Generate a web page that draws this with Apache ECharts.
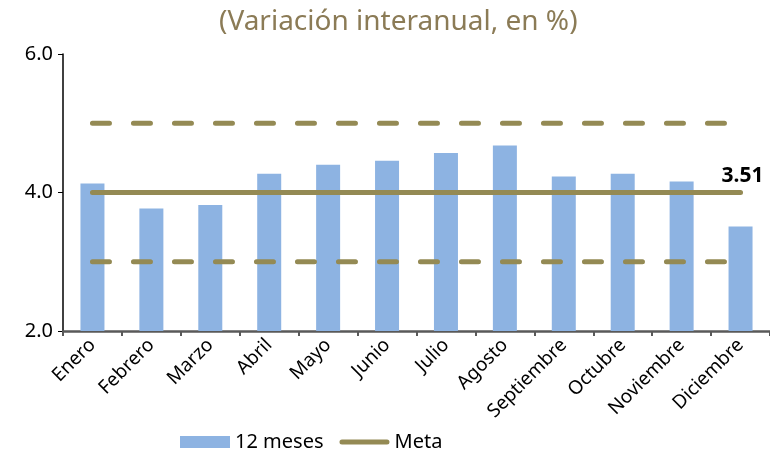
<!DOCTYPE html>
<html>
<head>
<meta charset="utf-8">
<script src="https://cdn.jsdelivr.net/npm/echarts@6/dist/echarts.min.js"></script>
<style>
  html, body { margin: 0; padding: 0; background: #fff; }
  #chart { width: 770px; height: 453px; }
</style>
</head>
<body>
<div id="chart"></div>
<script>
var meses = ['Enero', 'Febrero', 'Marzo', 'Abril', 'Mayo', 'Junio', 'Julio', 'Agosto', 'Septiembre', 'Octubre', 'Noviembre', 'Diciembre'];
var inflacion = [4.13, 3.77, 3.82, 4.27, 4.40, 4.46, 4.57, 4.68, 4.23, 4.27, 4.16, 3.51];
var meta = [4, 4, 4, 4, 4, 4, 4, 4, 4, 4, 4, 4];
var limiteSup = [5, 5, 5, 5, 5, 5, 5, 5, 5, 5, 5, 5];
var limiteInf = [3, 3, 3, 3, 3, 3, 3, 3, 3, 3, 3, 3];

var fuente = 'Noto Sans';
var oliva = '#948A54';

var barras = inflacion.map(function (v, i) {
    if (i === inflacion.length - 1) {
        return {
            value: v,
            label: {
                show: true, position: 'top', offset: [2, -35],
                fontSize: 21, fontWeight: 'bold', color: '#000', fontFamily: fuente,
                formatter: function (p) { return p.value.toFixed(2); }
            }
        };
    }
    return v;
});

var chart = echarts.init(document.getElementById('chart'));
chart.setOption({
    animation: false,
    textStyle: { fontFamily: fuente },
    title: {
        text: '(Variación interanual, en %)',
        left: 214, top: 3,
        textStyle: { color: '#8B7B56', fontSize: 28, fontWeight: 'normal', fontFamily: fuente }
    },
    legend: {
        data: [
            { name: '12 meses', icon: 'rect' },
            { name: 'Meta', icon: 'path://M2.5,0 L47.5,0 A2.5,2.5 0 0 1 47.5,5 L2.5,5 A2.5,2.5 0 0 1 2.5,0 Z' }
        ],
        bottom: -4, left: 175,
        itemWidth: 50, itemHeight: 12, itemGap: 16,
        textStyle: { fontSize: 20, color: '#000', fontFamily: fuente }
    },
    grid: { left: 63, right: 0, top: 54, bottom: 122 },
    xAxis: {
        type: 'category',
        data: meses,
        axisLine: { lineStyle: { color: '#595959', width: 2.5 } },
        axisTick: { show: true, length: 5, lineStyle: { color: '#595959', width: 2 } },
        axisLabel: { rotate: 45, interval: 0, fontSize: 19, color: '#000', margin: 11 }
    },
    yAxis: {
        type: 'value', min: 2, max: 6, interval: 2,
        splitLine: { show: false },
        axisLine: { show: true, lineStyle: { color: '#000', width: 1.5 } },
        axisTick: { show: true, length: 5, lineStyle: { color: '#000' } },
        axisLabel: { fontSize: 20, color: '#000', margin: 10, formatter: function (v) { return v.toFixed(1); } }
    },
    series: [
        {
            name: '12 meses', type: 'bar', data: barras, barWidth: 24,
            itemStyle: { color: '#8DB3E2' }
        },
        {
            name: 'Meta', type: 'line', data: meta, symbol: 'none',
            lineStyle: { color: oliva, width: 5, cap: 'round' },
            itemStyle: { color: oliva }
        },
        {
            name: 'Superior', type: 'line', data: limiteSup, symbol: 'none',
            lineStyle: { color: oliva, width: 5, type: [17, 24], cap: 'round' }
        },
        {
            name: 'Inferior', type: 'line', data: limiteInf, symbol: 'none',
            lineStyle: { color: oliva, width: 5, type: [17, 24], cap: 'round' }
        }
    ]
});
</script>
</body>
</html>
